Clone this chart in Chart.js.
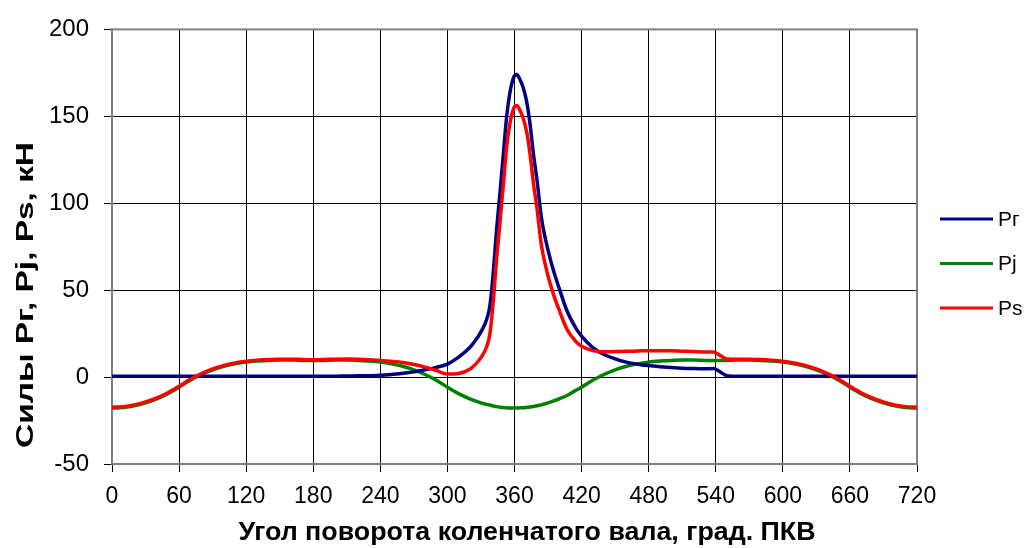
<!DOCTYPE html>
<html>
<head>
<meta charset="utf-8">
<script src="https://cdn.jsdelivr.net/npm/chart.js@4.4.1/dist/chart.umd.min.js"></script>
<style>
html,body{margin:0;padding:0;background:#fff;}
#wrap{width:1031px;height:548px;position:relative;}
</style>
</head>
<body>
<div id="wrap"><canvas id="c" width="1031" height="548"></canvas></div>
<script>
// Crank angle, degrees
const angles = [0,10,20,30,40,50,60,70,80,90,100,110,120,130,140,150,160,170,180,190,200,210,220,230,240,250,260,270,280,290,300,310,320,325,330,335,338,341,344,347,350,353,356,359,362,365,368,371,374,377,380,384,390,395,400,407,415,420,430,440,450,460,470,480,490,500,510,520,530,538,545,550,560,570,580,590,600,610,620,630,640,650,660,670,680,690,700,710,720];
// Gas force Pг, kN
const prValues = [0.5,0.5,0.5,0.5,0.5,0.5,0.5,0.5,0.5,0.5,0.5,0.5,0.5,0.5,0.5,0.5,0.5,0.5,0.5,0.5,0.5,0.6,0.7,0.8,1.0,1.5,2.2,3.0,4.2,5.6,7.5,11.5,17,21,26,33,41,60,85,106,128,150,164,172,174,171,166,158,145,128,114,92,73,61,51,38,28,23.5,17,13,10.5,8.6,7.4,6.6,6.0,5.5,5.1,4.9,4.8,4.9,2.5,0.8,0.5,0.5,0.5,0.5,0.5,0.5,0.5,0.5,0.5,0.5,0.5,0.5,0.5,0.5,0.5,0.5,0.5];
// Inertia force Pj, kN
const pjValues = [-17.8,-17.5,-16.5,-14.8,-12.5,-9.5,-5.8,-1.8,1.5,4.2,6.2,7.6,8.6,9.2,9.6,9.8,9.8,9.6,9.5,9.6,9.8,9.8,9.6,9.2,8.6,7.6,6.2,4.2,1.5,-1.8,-5.8,-9.5,-12.5,-13.7,-14.8,-15.7,-16.1,-16.6,-17.0,-17.3,-17.5,-17.7,-17.8,-17.8,-17.8,-17.7,-17.6,-17.4,-17.2,-16.9,-16.5,-16.0,-14.8,-13.7,-12.5,-10.6,-7.6,-5.8,-1.8,1.5,4.2,6.2,7.6,8.6,9.2,9.6,9.8,9.8,9.6,9.5,9.5,9.6,9.8,9.8,9.6,9.2,8.6,7.6,6.2,4.2,1.5,-1.8,-5.8,-9.5,-12.5,-14.8,-16.5,-17.5,-17.8];
// Total force Ps, kN
const psValues = [-17.3,-17.0,-16.0,-14.3,-12.0,-9.0,-5.3,-1.3,2.0,4.7,6.7,8.1,9.1,9.7,10.1,10.3,10.3,10.1,10.0,10.1,10.3,10.4,10.3,10.0,9.6,9.1,8.4,7.2,5.7,3.8,1.7,2.0,4.5,7.3,11.2,17.3,24.9,43.4,68.0,88.7,110.5,132.3,146.2,154.2,156.2,153.3,148.4,140.6,127.8,111.1,97.5,76.0,58.2,47.3,38.5,27.4,20.4,17.7,15.2,14.5,14.7,14.8,15.0,15.2,15.2,15.1,14.9,14.7,14.4,14.4,12.0,10.4,10.3,10.3,10.1,9.7,9.1,8.1,6.7,4.7,2.0,-1.3,-5.3,-9.0,-12.0,-14.3,-16.0,-17.0,-17.3];

const seriesLabels = ['Pг','Pj','Ps'];
const seriesColors = ['#000080','#008000','#FF0000'];
const xTitle = 'Угол поворота коленчатого вала, град. ПКВ';
const yTitle = 'Силы Pг, Pj, Ps, кН';

function pts(vals){ return angles.map((a,i)=>({x:a,y:vals[i]})); }

const extras = {
  id:'extras',
  beforeDatasetsDraw(chart){
    const {ctx, chartArea:a} = chart;
    ctx.save();
    ctx.strokeStyle = '#808080';
    ctx.lineWidth = 2;
    ctx.strokeRect(a.left, a.top, a.right - a.left, a.bottom - a.top);
    ctx.restore();
  },
  afterDraw(chart){
    const {ctx} = chart;
    ctx.save();
    // legend
    ctx.font = '21px "Liberation Sans", Arial, sans-serif';
    ctx.textBaseline = 'middle';
    ctx.textAlign = 'left';
    chart.data.datasets.forEach((ds,i)=>{
      const y = 219 + i*44.5;
      ctx.strokeStyle = ds.borderColor;
      ctx.lineWidth = 3;
      ctx.beginPath(); ctx.moveTo(940,y); ctx.lineTo(993,y); ctx.stroke();
      ctx.fillStyle = '#000';
      ctx.fillText(ds.label, 998, y+1);
    });
    // x title
    ctx.font = 'bold 25px "Liberation Sans", Arial, sans-serif';
    ctx.textAlign = 'center';
    ctx.textBaseline = 'alphabetic';
    let w = ctx.measureText(xTitle).width;
    ctx.save();
    ctx.translate(527, 540);
    ctx.scale(577/w, 1);
    ctx.fillText(xTitle, 0, 0);
    ctx.restore();
    // y title
    ctx.font = 'bold 24px "Liberation Sans", Arial, sans-serif';
    w = ctx.measureText(yTitle).width;
    ctx.save();
    ctx.translate(33, 295);
    ctx.rotate(-Math.PI/2);
    ctx.scale(306/w, 1);
    ctx.fillText(yTitle, 0, 0);
    ctx.restore();
    ctx.restore();
  }
};

new Chart(document.getElementById('c'), {
  type:'line',
  data:{
    datasets:[
      {label:seriesLabels[0], data:pts(prValues), borderColor:seriesColors[0], order:1},
      {label:seriesLabels[1], data:pts(pjValues), borderColor:seriesColors[1], order:2},
      {label:seriesLabels[2], data:pts(psValues), borderColor:seriesColors[2], order:0}
    ].map(d=>Object.assign(d,{borderWidth:3.5, pointRadius:0, fill:false, cubicInterpolationMode:'monotone'}))
  },
  options:{
    responsive:false,
    animation:false,
    events:[],
    layout:{padding:{top:26,right:114,left:0,bottom:0}},
    plugins:{legend:{display:false}, tooltip:{enabled:false}, title:{display:false}},
    scales:{
      x:{
        type:'linear', min:0, max:720,
        ticks:{stepSize:60, color:'#000', font:{family:'"Liberation Sans", Arial, sans-serif', size:23}, padding:11, maxRotation:0},
        grid:{color:'#000', lineWidth:1, tickLength:8, tickColor:'#000'},
        border:{display:true, color:'#808080', width:2},
        afterFit(s){ s.height = 84; }
      },
      y:{
        type:'linear', min:-50, max:200,
        ticks:{stepSize:50, color:'#000', font:{family:'"Liberation Sans", Arial, sans-serif', size:24}, padding:15},
        grid:{color:'#000', lineWidth:1, tickLength:8, tickColor:'#000'},
        border:{display:true, color:'#808080', width:2},
        afterFit(s){ s.width = 112; }
      }
    }
  },
  plugins:[extras]
});
</script>
</body>
</html>
